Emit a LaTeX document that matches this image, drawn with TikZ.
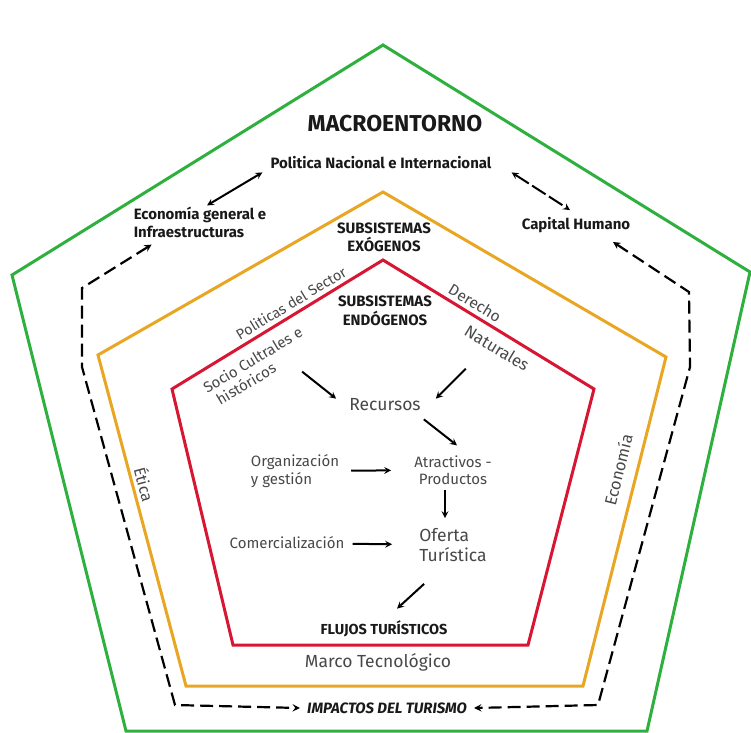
\documentclass[tikz,border=0pt]{standalone}
\usepackage{fontspec}
\setmainfont{Fira Sans}
\usepackage{tikz}
\usetikzlibrary{calc, arrows, positioning}
\definecolor{verde}{RGB}{46, 176, 62}
\definecolor{naranja}{RGB}{233, 166, 35}
\definecolor{rojo}{RGB}{214, 22, 50}
\definecolor{gris}{RGB}{72, 72, 72}
\newcommand{\letra}[2]{\fontsize{#1}{#2}\selectfont}
\tikzset{
    textnode/.style = {draw=none, fill=none, rectangle, inner sep=0em, node distance=0em, text=gris, align=center},
    boldnode/.style = {draw=none, fill=none, rectangle, inner sep=0em, node distance=0em, text=black!90, align=center},
    connect/.style = {black, line width=2pt, ->, >=stealth},
    bothconnect/.style = {black, line width=2pt, <->, >=stealth},
    dashconnect/.style = {black, line width=2.2pt, <->, >=stealth, dash pattern=on 13pt off 6pt},
    pentagon/.style = {line width=3pt, line join=miter}
}

\begin{document}
\begin{tikzpicture}[x=1pt, y=-1pt]
\useasboundingbox (0,0) rectangle (751,732);

% los tres pentagonos
\draw [pentagon, verde] (383,45) -- (750,272) -- (647,731) -- (126,731) -- (12,275) -- cycle;
\draw [pentagon, naranja] (383,192) -- (666,357) -- (583,686) -- (186,686) -- (98,355) -- cycle;
\draw [pentagon, rojo] (383,260) -- (594,389) -- (528,645) -- (233,645) -- (172,389) -- cycle;

% macroentorno
\node [boldnode, name=macro, font=\letra{23}{26}\bfseries] at (395,124) {MACROENTORNO};
\node [boldnode, name=pol, font=\letra{15}{18}\bfseries] at (381,163) {Politica Nacional e Internacional};
\node [boldnode, name=eco, font=\letra{15}{18}\bfseries, align=left] at (200,222) {Economía general e\\Infraestructuras};
\node [boldnode, name=cap, font=\letra{15}{18}\bfseries] at (576,225) {Capital Humano};
\node [boldnode, name=imp, font=\letra{15}{18}\bfseries\itshape] at (387,708) {IMPACTOS DEL TURISMO};

% subsistemas exogenos
\node [boldnode, name=exo, font=\letra{15}{18}\bfseries] at (384,237) {SUBSISTEMAS\\EXÓGENOS};
\node [textnode, name=sector, font=\letra{14.5}{16}, rotate=31] at (291,303) {Politicas del Sector};
\node [textnode, name=der, font=\letra{15.5}{16}, rotate=-31] at (475,303) {Derecho};
\node [textnode, name=eti, font=\letra{16}{16}, rotate=-75] at (145,484) {Ética};
\node [textnode, name=econ, font=\letra{16.5}{16}, rotate=76] at (618,470) {Economía};
\node [textnode, name=marco, font=\letra{17.5}{18}] at (378,662) {Marco Tecnológico};

% subsistemas endogenos
\node [boldnode, name=endo, font=\letra{15}{19}\bfseries] at (385,311) {SUBSISTEMAS\\ENDÓGENOS};
\node [textnode, name=socio, font=\letra{15}{17}, rotate=31, align=left] at (257,367) {Socio Cultrales e\\\hspace*{5pt}históricos};
\node [textnode, name=nat, font=\letra{16.5}{16}, rotate=-31] at (497,348) {Naturales};
\node [textnode, name=rec, font=\letra{17.5}{18}] at (385,405) {Recursos};
\node [textnode, name=atr, font=\letra{15}{17}] at (453,470) {Atractivos -\\Productos};
\node [textnode, name=org, font=\letra{15}{18}, align=left] at (295,471) {Organización\\y gestión};
\node [textnode, name=ofe, font=\letra{17.5}{20}, align=left] at (453,545) {Oferta\\Turística};
\node [textnode, name=com, font=\letra{15}{18}] at (287,543) {Comercialización};
\node [boldnode, name=flu, font=\letra{14.5}{16}\bfseries] at (384,629) {FLUJOS TURÍSTICOS};

% flechas interiores
\draw [connect] ($(rec.north west)+(-47,-27)$) -- ($(rec.north west)+(-13,0)$);
\draw [connect] ($(rec.north east)+(45,-30)$) -- ($(rec.north east)+(15,0)$);
\draw [connect] ($(rec.south east)+(3,8)$) -- ($(atr.north)+(4,-10)$);
\draw [connect, shorten <=12pt, shorten >=23pt] (org) -- (atr);
\draw [connect] ($(atr.south)+(-8,5)$) -- ($(ofe.north)+(-8,-10)$);
\draw [connect, shorten <=8pt, shorten >=27pt] (com) -- (ofe);
\draw [connect] ($(ofe.south west)+(5,22)$) -- ($(flu.north)+(13,-12)$);

% flechas del macroentorno
\draw [bothconnect] ($(eco.north)+(7,-1)$) -- ($(pol.south west)+(-8,3)$);
\draw [bothconnect, dash pattern=on 16pt off 4pt] ($(pol.south east)+(20,3)$) -- ($(cap.north)+(-6,-7)$);
\draw [dashconnect] ($(eco.south west)+(18,7)$) -- (82,288) -- (82,367) -- (175,705) -- ($(imp.west)+(-7,0)$);
\draw [dashconnect] ($(cap.south)+(37,9)$) -- (689,292) -- (690,367) -- (598,705) -- ($(imp.east)+(7,0)$);
\end{tikzpicture}
\end{document}
